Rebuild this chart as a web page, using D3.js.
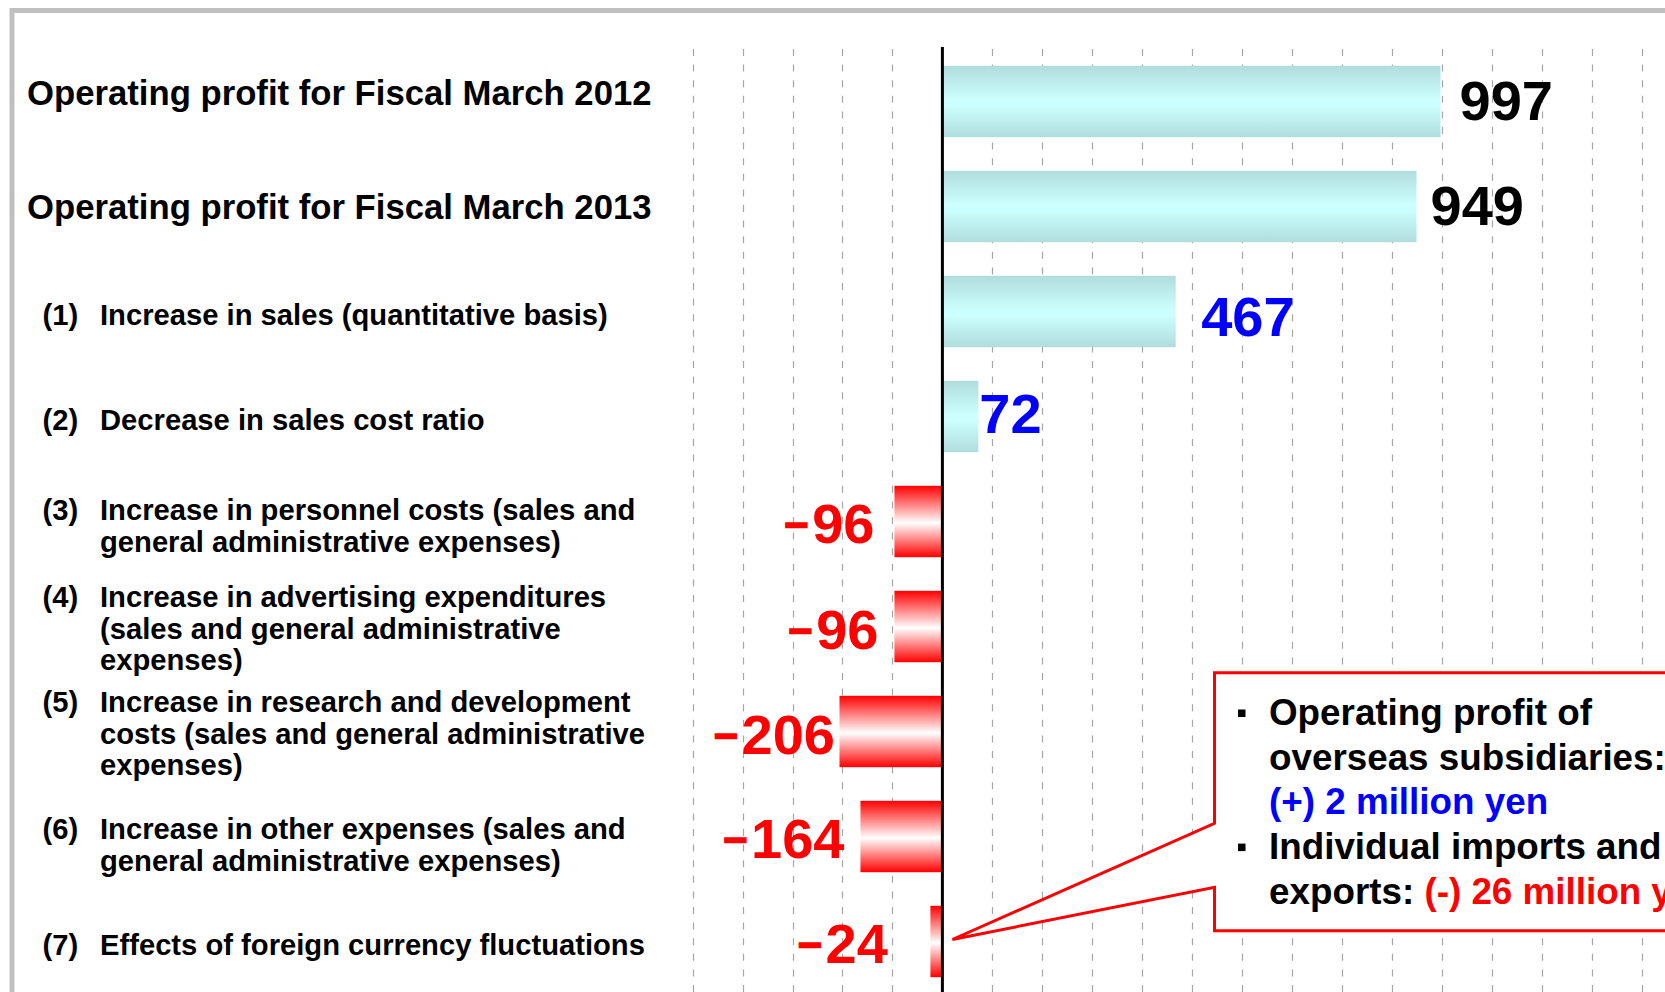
<!DOCTYPE html>
<html>
<head>
<meta charset="utf-8">
<script src="https://cdn.jsdelivr.net/npm/d3@7"></script>
<style>
  html, body { margin: 0; padding: 0; background: #fff; overflow: hidden; }
  svg { display: block; }
  text { font-family: "Liberation Sans", Arial, Helvetica, sans-serif; font-weight: bold; }
</style>
</head>
<body>
<svg id="chart" width="1665" height="992"></svg>
<script>
// Operating profit (millions of yen) and the factors behind the change
const totalLabels = [
  "Operating profit for Fiscal March 2012",
  "Operating profit for Fiscal March 2013"
];
const totalValues = [997, 949];

const factorNumbers = ["(1)", "(2)", "(3)", "(4)", "(5)", "(6)", "(7)"];
const factorLabels = [
  ["Increase in sales (quantitative basis)"],
  ["Decrease in sales cost ratio"],
  ["Increase in personnel costs (sales and", "general administrative expenses)"],
  ["Increase in advertising expenditures", "(sales and general administrative", "expenses)"],
  ["Increase in research and development", "costs (sales and general administrative", "expenses)"],
  ["Increase in other expenses (sales and", "general administrative expenses)"],
  ["Effects of foreign currency fluctuations"]
];
const factorValues = [467, 72, -96, -96, -206, -164, -24];

// Breakdown of the foreign currency effect (millions of yen)
const fxNoteLines = [
  ["Operating profit of", "overseas subsidiaries:"],
  ["Individual imports and", "exports:"]
];
const fxNoteValues = [2, -26];
const fxValueOnOwnLine = [true, false];

// Layout: hand tuning of text placement per row (pixels)
const rowLabelShift = [-9, 0, 3, 3, 4, 2, 2, 8, 3];
const valueLabelGap = [19, 14, 25.5, 1, 20, 16, 4.5, 16, 42.5];
const valueLabelShift = [-3, -3, 3, -5, 0, 1, 1, 0, 0];

const rows = [
  ...totalLabels.map((t, i) => ({ num: "", lines: [t], value: totalValues[i], total: true })),
  ...factorLabels.map((l, i) => ({ num: factorNumbers[i], lines: l, value: factorValues[i], total: false }))
];

const W = 1665, H = 992;
const svg = d3.select("#chart");

const x = d3.scaleLinear().domain([-500, 1500]).range([692.6, 1691.8]);
const y = d3.scaleBand().domain(d3.range(rows.length)).range([49, 994])
  .paddingInner(0.32).paddingOuter(0.16);

// gradients
const defs = svg.append("defs");
const gPos = defs.append("linearGradient").attr("id", "gradPos")
  .attr("x1", 0).attr("y1", 0).attr("x2", 0).attr("y2", 1);
[[0, "#b0dcdc"], [0.48, "#ccffff"], [0.55, "#ccffff"], [1, "#b0dcdc"]]
  .forEach(([o, c]) => gPos.append("stop").attr("offset", o).attr("stop-color", c));
const gNeg = defs.append("linearGradient").attr("id", "gradNeg")
  .attr("x1", 0).attr("y1", 0).attr("x2", 0).attr("y2", 1);
[[0, "#ff0000"], [0.52, "#ffffff"], [1, "#ff0000"]]
  .forEach(([o, c]) => gNeg.append("stop").attr("offset", o).attr("stop-color", c));

// slide frame
svg.append("rect")
  .attr("x", 12).attr("y", 10.5).attr("width", 3000).attr("height", 3000)
  .attr("fill", "none").attr("stroke", "#c0c0c0").attr("stroke-width", 5);

// vertical dashed grid
svg.append("g").selectAll("line")
  .data(x.ticks(20).filter(t => t !== 0 && t >= -500))
  .join("line")
  .attr("x1", d => Math.round(x(d)) + 0.5).attr("x2", d => Math.round(x(d)) + 0.5)
  .attr("y1", 49).attr("y2", H)
  .attr("stroke", "#a6a6a6").attr("stroke-width", 1.2)
  .attr("stroke-dasharray", "7,8.6");

// bars
svg.append("g").selectAll("rect")
  .data(rows)
  .join("rect")
  .attr("x", d => x(Math.min(0, d.value)))
  .attr("y", (d, i) => y(i))
  .attr("width", d => Math.abs(x(d.value) - x(0)))
  .attr("height", y.bandwidth())
  .attr("fill", d => d.value < 0 ? "url(#gradNeg)" : "url(#gradPos)");

// zero axis
svg.append("line")
  .attr("x1", x(0)).attr("x2", x(0)).attr("y1", 47).attr("y2", H)
  .attr("stroke", "#000").attr("stroke-width", 3);

// category labels
const lab = svg.append("g");
rows.forEach((d, i) => {
  const cy = y(i) + y.bandwidth() / 2 + rowLabelShift[i];
  if (d.total) {
    lab.append("text").attr("x", 27).attr("y", cy + 0.357 * 34.7)
      .attr("font-size", 34.7).attr("fill", "#000").text(d.lines[0]);
  } else {
    const lh = 31.5, fs = 29.2;
    const top = cy - (d.lines.length - 1) * lh / 2 + 0.358 * fs;
    lab.append("text").attr("x", 42.5).attr("y", top)
      .attr("font-size", fs).attr("fill", "#000").text(d.num);
    d.lines.forEach((ln, k) => {
      lab.append("text").attr("x", 100).attr("y", top + k * lh)
        .attr("font-size", fs).attr("fill", "#000").text(ln);
    });
  }
});

// value labels
const vl = svg.append("g").selectAll("text")
  .data(rows)
  .join("text")
  .attr("x", (d, i) => d.value < 0 ? x(d.value) - valueLabelGap[i] : x(d.value) + valueLabelGap[i])
  .attr("y", (d, i) => y(i) + y.bandwidth() / 2 + 21 + valueLabelShift[i])
  .attr("text-anchor", d => d.value < 0 ? "end" : "start")
  .attr("font-size", 56)
  .attr("fill", d => d.total ? "#000" : (d.value < 0 ? "#ff0000" : "#0000ff"));
vl.filter(d => d.value < 0).append("tspan")
  .attr("font-size", 42).attr("dy", -4)
  .attr("stroke", "#ff0000").attr("stroke-width", 1.4)
  .text("\u2212");
vl.append("tspan")
  .attr("dx", d => d.value < 0 ? 3.5 : null)
  .attr("dy", d => d.value < 0 ? 4 : null)
  .text(d => String(Math.abs(d.value)));

// callout on the foreign currency effect
const fxRow = rows.length - 1;
const tipX = x(0) + 10, tipY = y(fxRow) + y.bandwidth() / 2 - 2;
const bx = 1214.5, by0 = 672.7, by1 = 930.7, jy0 = 823.3, jy1 = 887.3;
svg.append("path")
  .attr("d", `M${bx},${by0} L${W + 20},${by0} L${W + 20},${by1} L${bx},${by1} L${bx},${jy1} L${tipX},${tipY} L${bx},${jy0} Z`)
  .attr("fill", "#fff").attr("stroke", "#ff0000").attr("stroke-width", 3)
  .attr("stroke-linejoin", "miter");

const note = svg.append("g");
const nfs = 36.8, nlh = 44.7, nx = 1269, nb = 725;
let line = 0;
const fmtYen = v => `(${v >= 0 ? "+" : "-"}) ${Math.abs(v)} million yen`;
fxNoteLines.forEach((lines, i) => {
  note.append("rect")
    .attr("x", 1238).attr("y", nb + line * nlh - 15.5)
    .attr("width", 7.5).attr("height", 7.5).attr("fill", "#000");
  lines.forEach((ln, k) => {
    const t = note.append("text").attr("x", nx).attr("y", nb + line * nlh)
      .attr("font-size", nfs).attr("fill", "#000");
    t.append("tspan").text(ln);
    if (k === lines.length - 1 && !fxValueOnOwnLine[i]) {
      t.append("tspan").attr("fill", fxNoteValues[i] < 0 ? "#ff0000" : "#0000ff")
        .text(" " + fmtYen(fxNoteValues[i]));
    }
    line++;
  });
  if (fxValueOnOwnLine[i]) {
    note.append("text").attr("x", nx).attr("y", nb + line * nlh)
      .attr("font-size", nfs).attr("fill", fxNoteValues[i] < 0 ? "#ff0000" : "#0000ff")
      .text(fmtYen(fxNoteValues[i]));
    line++;
  }
});
</script>
</body>
</html>
